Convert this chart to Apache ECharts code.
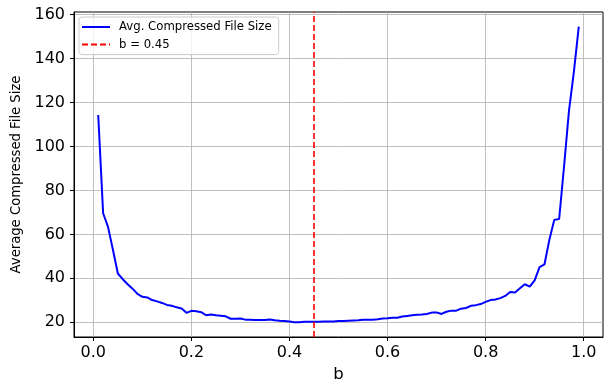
<!DOCTYPE html>
<html><head><meta charset="utf-8">
<script src="https://cdn.jsdelivr.net/npm/echarts@6/dist/echarts.min.js"></script>
<style>html,body{margin:0;padding:0;background:#fff}#c{width:610px;height:388px}</style>
</head><body><div id="c"></div>
<script>
const bValues = [0.01,0.02,0.03,0.04,0.05,0.06,0.07,0.08,0.09,0.10,0.11,0.12,0.13,0.14,0.15,0.16,0.17,0.18,0.19,0.20,0.21,0.22,0.23,0.24,0.25,0.26,0.27,0.28,0.29,0.30,0.31,0.32,0.33,0.34,0.35,0.36,0.37,0.38,0.39,0.40,0.41,0.42,0.43,0.44,0.45,0.46,0.47,0.48,0.49,0.50,0.51,0.52,0.53,0.54,0.55,0.56,0.57,0.58,0.59,0.60,0.61,0.62,0.63,0.64,0.65,0.66,0.67,0.68,0.69,0.70,0.71,0.72,0.73,0.74,0.75,0.76,0.77,0.78,0.79,0.80,0.81,0.82,0.83,0.84,0.85,0.86,0.87,0.88,0.89,0.90,0.91,0.92,0.93,0.94,0.95,0.96,0.97,0.98,0.99];
const avgSize = [114.3,69.6,63.4,53.0,42.2,39.6,37.3,35.3,32.9,31.6,31.3,30.1,29.5,28.8,27.9,27.5,26.8,26.3,24.3,25.2,25.0,24.6,23.2,23.5,23.2,23.0,22.7,21.6,21.6,21.7,21.2,21.1,21.0,21.0,21.0,21.3,20.9,20.7,20.6,20.4,20.0,20.0,20.2,20.2,20.2,20.2,20.3,20.3,20.4,20.6,20.6,20.7,20.8,20.9,21.1,21.2,21.2,21.4,21.7,21.8,22.1,22.1,22.6,22.9,23.2,23.4,23.5,23.8,24.4,24.5,23.8,24.8,25.3,25.3,26.2,26.5,27.5,27.8,28.3,29.3,30.1,30.4,31.0,32.0,33.8,33.5,35.5,37.3,36.2,39.1,45.1,46.3,57.5,66.6,67.0,91.0,116.2,134.0,154.5];
const xTicks = [0.0,0.2,0.4,0.6,0.8,1.0];
const yTicks = [20,40,60,80,100,120,140,160];
const threshold = 0.45;
const seriesName = 'Avg. Compressed File Size';
const thresholdName = 'b = 0.45';

const font = 'DejaVu Sans';
const chart = echarts.init(document.getElementById('c'), null, {renderer:'canvas'});
chart.setOption({
  animation:false,
  grid:{left:74,right:7,top:12,bottom:48,show:true,borderColor:'#000',borderWidth:1,backgroundColor:'transparent'},
  legend:{
    orient:'vertical', left:79, top:17, padding:[3,7,3,2], itemGap:3.6,
    itemWidth:28, itemHeight:14,
    itemStyle:{opacity:0},
    backgroundColor:'rgba(255,255,255,0.8)', borderColor:'#cccccc', borderWidth:1, borderRadius:3,
    textStyle:{fontFamily:font,fontSize:11.7,lineHeight:14,color:'#000',padding:[0,0,0,4]},
    data:[seriesName, thresholdName]
  },
  xAxis:{
    type:'value', min:-0.0394, max:1.0394,
    name:'b', nameLocation:'middle', nameGap:29,
    nameTextStyle:{fontFamily:font,fontSize:16.5,color:'#000'},
    axisLine:{show:true,onZero:false,lineStyle:{color:'#000',width:1}},
    axisTick:{show:true,inside:false,length:4,customValues:xTicks,lineStyle:{color:'#000'}},
    axisLabel:{customValues:xTicks,fontFamily:font,fontSize:16,color:'#000',margin:8,
      formatter:v=>v.toFixed(1)},
    splitLine:{show:true,lineStyle:{color:'#b0b0b0',width:0.8}}
  },
  yAxis:{
    type:'value', min:13.3, max:161.2,
    name:'Average Compressed File Size', nameLocation:'middle', nameGap:47,
    nameTextStyle:{fontFamily:font,fontSize:13.2,color:'#000'},
    axisLine:{show:true,onZero:false,lineStyle:{color:'#000',width:1}},
    axisTick:{show:true,inside:false,length:4,customValues:yTicks,lineStyle:{color:'#000'}},
    axisLabel:{customValues:yTicks,fontFamily:font,fontSize:16,color:'#000',margin:9},
    splitLine:{show:true,lineStyle:{color:'#b0b0b0',width:0.8}}
  },
  series:[
    {name:seriesName,type:'line',data:bValues.map((b,i)=>[b,avgSize[i]]),
     symbol:'none',lineStyle:{color:'#0000ff',width:2},itemStyle:{color:'#0000ff'},z:3},
    {name:thresholdName,type:'line',data:[],symbol:'none',
     lineStyle:{color:'#ff0000',width:1.6,type:[6,3]},itemStyle:{color:'#ff0000'},
     markLine:{silent:true,symbol:['none','none'],label:{show:false},
       lineStyle:{color:'#ff0000',width:1.6,type:[6,3]},data:[{xAxis:threshold}]}}
  ]
});
</script></body></html>
